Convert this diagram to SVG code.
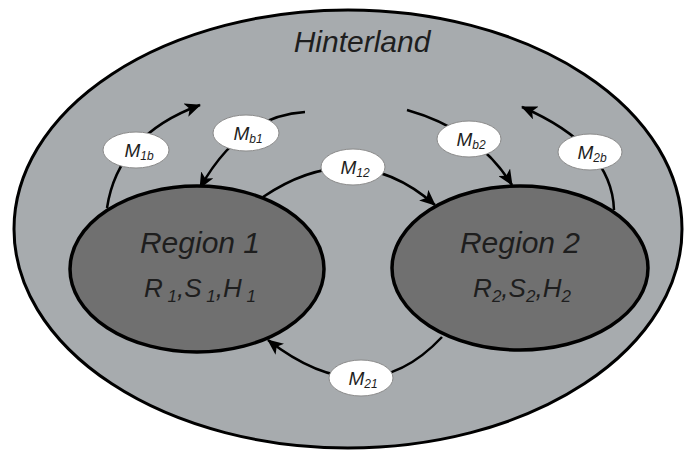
<svg xmlns="http://www.w3.org/2000/svg" width="687" height="456" viewBox="0 0 687 456">
<defs>
<style>
.outer{fill:#a7abae;stroke:#000;stroke-width:3}
.region{fill:#707070;stroke:#000;stroke-width:3.5}
.lbl{fill:#fff;stroke:#8a8a8a;stroke-width:1}
.conn{fill:none;stroke:#000;stroke-width:2.5}
.t{font-family:"Liberation Sans",Arial,Helvetica,sans-serif;font-style:italic;fill:#1e1e1e}
.big{font-size:30px}
.mid{font-size:26px}
.sm{font-size:19px}
</style>
<marker id="ah" viewBox="0 0 16 14" refX="15" refY="7" markerWidth="16" markerHeight="14" markerUnits="userSpaceOnUse" orient="auto">
<path d="M0,0 L16,7 L0,14 L4,7 z" fill="#000"/>
</marker>
</defs>
<rect width="687" height="456" fill="#fff"/>
<g id="hinterland">
<ellipse class="outer" cx="348" cy="229" rx="334" ry="219"/>
<text class="t big" x="362" y="52" text-anchor="middle">Hinterland</text>
</g>
<g id="connectors">
<path class="conn" d="M107,208 Q118,135 200,105" marker-end="url(#ah)"/>
<path class="conn" d="M305,112 Q240,116 200,188" marker-end="url(#ah)"/>
<path class="conn" d="M263,197 Q355,135 435,205" marker-end="url(#ah)"/>
<path class="conn" d="M407,110 Q478,130 512,185" marker-end="url(#ah)"/>
<path class="conn" d="M614,210 Q612,146 522,107" marker-end="url(#ah)"/>
<path class="conn" d="M442,337 Q367,417 268,340" marker-end="url(#ah)"/>
</g>
<g id="region1">
<ellipse class="region" cx="197" cy="269" rx="127" ry="83"/>
<text class="t big" x="200" y="253" text-anchor="middle">Region 1</text>
<text class="t mid" x="200" y="297" text-anchor="middle">R<tspan font-size="17" dy="5"> 1</tspan><tspan dy="-5">,S</tspan><tspan font-size="17" dy="5"> 1</tspan><tspan dy="-5">,H</tspan><tspan font-size="17" dy="5"> 1</tspan></text>
</g>
<g id="region2">
<ellipse class="region" cx="520" cy="268" rx="128" ry="82"/>
<text class="t big" x="520" y="253" text-anchor="middle">Region 2</text>
<text class="t mid" x="522" y="297" text-anchor="middle">R<tspan font-size="17" dy="5">2</tspan><tspan dy="-5">,S</tspan><tspan font-size="17" dy="5">2</tspan><tspan dy="-5">,H</tspan><tspan font-size="17" dy="5">2</tspan></text>
</g>
<g id="M1b">
<ellipse class="lbl" cx="136" cy="150" rx="33" ry="18"/>
<text class="t sm" x="139" y="157" text-anchor="middle">M<tspan font-size="12" dy="3">1b</tspan></text>
</g>
<g id="Mb1">
<ellipse class="lbl" cx="246" cy="133" rx="33" ry="18"/>
<text class="t sm" x="248" y="140" text-anchor="middle">M<tspan font-size="12" dy="3">b1</tspan></text>
</g>
<g id="M12">
<ellipse class="lbl" cx="353" cy="167" rx="32" ry="18"/>
<text class="t sm" x="355" y="174" text-anchor="middle">M<tspan font-size="12" dy="3">12</tspan></text>
</g>
<g id="Mb2">
<ellipse class="lbl" cx="469" cy="139" rx="32" ry="18"/>
<text class="t sm" x="471" y="146" text-anchor="middle">M<tspan font-size="12" dy="3">b2</tspan></text>
</g>
<g id="M2b">
<ellipse class="lbl" cx="590" cy="152" rx="32" ry="18"/>
<text class="t sm" x="592" y="159" text-anchor="middle">M<tspan font-size="12" dy="3">2b</tspan></text>
</g>
<g id="M21">
<ellipse class="lbl" cx="361" cy="378" rx="32" ry="18"/>
<text class="t sm" x="363" y="385" text-anchor="middle">M<tspan font-size="12" dy="3">21</tspan></text>
</g>
</svg>
